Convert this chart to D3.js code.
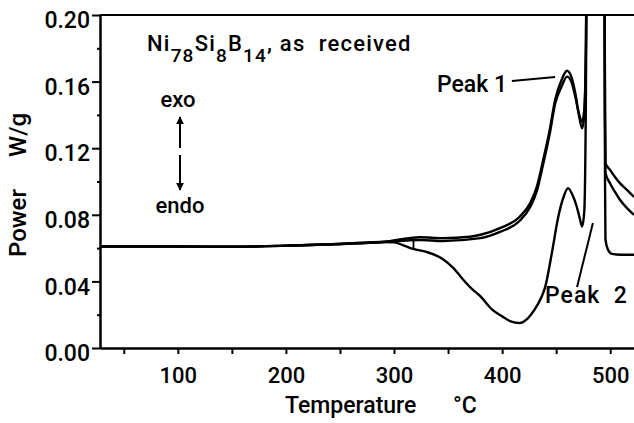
<!DOCTYPE html>
<html>
<head>
<meta charset="utf-8">
<script src="https://cdn.jsdelivr.net/npm/d3@7"></script>
<style>
  body { margin: 0; background: #fff; }
  svg { display: block; font-family: Roboto, "DejaVu Sans", sans-serif; font-weight: 500; }
  .axis path, .axis line { stroke: #000; stroke-width: 2; }
  .axis text { font-family: Roboto, sans-serif; fill: #000; }
  .run { fill: none; stroke: #000; stroke-width: 2.4; }
</style>
</head>
<body>
<div id="chart"></div>
<script>
'use strict';

// DSC traces, Ni78Si8B14 as received: [temperature C, power W/g]
var runA = [
  [28, 0.0610], [100, 0.0610], [150, 0.0608], [200, 0.0614], [250, 0.0625],
  [290, 0.0637], [324, 0.0665], [345, 0.0660], [370, 0.0668], [380, 0.0680],
  [398, 0.0720], [416, 0.0787], [426, 0.0870], [432, 0.0967], [438, 0.1130],
  [444, 0.1310], [449, 0.1490], [455, 0.1610], [460, 0.1665], [464, 0.1630],
  [468, 0.1520], [471, 0.1400], [474, 0.1320], [476, 0.1400], [477.5, 0.1790],
  [478.5, 0.2600], [494.5, 0.2600], [495.2, 0.1400], [495.6, 0.1110],
  [499.8, 0.1070], [504.4, 0.1027], [509, 0.0990], [515.5, 0.0950], [522, 0.0907]
];
var runB = [
  [28, 0.0610], [100, 0.0610], [150, 0.0608], [200, 0.0614], [250, 0.0625],
  [290, 0.0637], [324, 0.0649], [345, 0.0643], [380, 0.0660], [398, 0.0697],
  [416, 0.0763], [426, 0.0847], [432, 0.0940], [438, 0.1105], [444, 0.1285],
  [449, 0.1465], [455, 0.1570], [460, 0.1630], [464, 0.1600], [468, 0.1500],
  [471, 0.1410], [474, 0.1360], [476, 0.1430], [477.5, 0.1800], [478.5, 0.2600],
  [494.5, 0.2600], [495.2, 0.1350], [495.7, 0.1050], [499.8, 0.0990],
  [504.4, 0.0937], [509, 0.0890], [515.5, 0.0840], [522, 0.0800]
];
var runC = [
  [28, 0.0610], [100, 0.0610], [150, 0.0608], [200, 0.0614], [250, 0.0625],
  [290, 0.0637], [300, 0.0635], [310, 0.0613], [318, 0.0595], [330, 0.0577],
  [345, 0.0535], [355, 0.0480], [364, 0.0410], [372, 0.0355], [380, 0.0310],
  [390, 0.0235], [400, 0.0190], [408, 0.0160], [416, 0.0150], [424, 0.0180],
  [430, 0.0230], [436, 0.0300], [440, 0.0370], [446, 0.0570], [452, 0.0790],
  [457, 0.0910], [461, 0.0960], [465, 0.0920], [469, 0.0850], [472, 0.0775],
  [474, 0.0730], [476, 0.0820], [477.5, 0.1500], [478.5, 0.2600], [494.5, 0.2600],
  [495.2, 0.1000], [495.6, 0.0650], [498, 0.0590], [501.6, 0.0565], [510, 0.0560],
  [522, 0.0560]
];

var yMajor = [0, 0.04, 0.08, 0.12, 0.16, 0.20];
var yMinor = [0.02, 0.06, 0.10, 0.14, 0.18];
var xMajor = [100, 200, 300, 400, 500];
var xMinor = [50, 150, 250, 350, 450];

var width = 634, height = 423;
var margin = {top: 15, right: 0, bottom: 75, left: 100};

var x = d3.scaleLinear().domain([28, 522]).range([margin.left, width - margin.right]);
var y = d3.scaleLinear().domain([0, 0.20]).range([height - margin.bottom, margin.top]);

var svg = d3.select('#chart').append('svg')
  .attr('width', width)
  .attr('height', height);

svg.append('clipPath').attr('id', 'plot')
  .append('rect')
  .attr('x', margin.left).attr('y', margin.top)
  .attr('width', width - margin.left - margin.right)
  .attr('height', height - margin.top - margin.bottom);

// axes
svg.append('g').attr('class', 'axis')
  .attr('transform', 'translate(' + margin.left + ',0)')
  .call(d3.axisLeft(y).tickValues(yMinor).tickSize(3).tickSizeOuter(0).tickFormat(''));
var yAxis = svg.append('g').attr('class', 'axis')
  .attr('transform', 'translate(' + margin.left + ',0)')
  .call(d3.axisLeft(y).tickValues(yMajor).tickSize(8).tickSizeOuter(0)
    .tickPadding(2).tickFormat(d3.format('.2f')));
yAxis.selectAll('text').attr('font-size', 23).attr('dy', '0.55em');

svg.append('g').attr('class', 'axis')
  .attr('transform', 'translate(0,' + y(0) + ')')
  .call(d3.axisBottom(x).tickValues(xMinor).tickSize(6).tickSizeOuter(0).tickFormat(''));
var xAxis = svg.append('g').attr('class', 'axis')
  .attr('transform', 'translate(0,' + y(0) + ')')
  .call(d3.axisBottom(x).tickValues(xMajor).tickSize(6).tickSizeOuter(0).tickPadding(13));
xAxis.selectAll('text').attr('font-size', 22);

// top frame
svg.append('line')
  .attr('x1', margin.left).attr('x2', width)
  .attr('y1', y(0.20)).attr('y2', y(0.20))
  .attr('stroke', '#000').attr('stroke-width', 2);

// traces
var line = d3.line()
  .x(function(d) { return x(d[0]); })
  .y(function(d) { return y(d[1]); })
  .curve(d3.curveMonotoneX);

var plot = svg.append('g').attr('clip-path', 'url(#plot)');
[runA, runB, runC].forEach(function(run) {
  plot.append('path').datum(run).attr('class', 'run').attr('d', line);
});

// small marker where the runs separate
plot.append('line')
  .attr('x1', x(318)).attr('x2', x(318))
  .attr('y1', y(0.0655)).attr('y2', y(0.0595))
  .attr('stroke', '#000').attr('stroke-width', 1.8);

// title with subscripts
var title = svg.append('text')
  .attr('x', 147).attr('y', 51)
  .attr('font-size', 22)
  .attr('letter-spacing', 1.2)
  .attr('xml:space', 'preserve');
[['Ni', 0], ['78', 1], ['Si', 0], ['8', 1], ['B', 0], ['14', 1], [', as  received', 0]]
  .forEach(function(p, i, arr) {
    var prev = i > 0 ? arr[i - 1][1] : 0;
    title.append('tspan')
      .attr('dy', (p[1] - prev) * 11)
      .attr('font-size', p[1] ? 19 : 22)
      .text(p[0]);
  });

// exo / endo arrows
svg.append('text').attr('x', 178).attr('y', 107)
  .attr('text-anchor', 'middle').attr('font-size', 22).text('exo');
svg.append('text').attr('x', 180).attr('y', 213)
  .attr('text-anchor', 'middle').attr('font-size', 22).text('endo');

svg.append('defs').append('marker')
  .attr('id', 'head').attr('viewBox', '0 0 10 10')
  .attr('refX', 9).attr('refY', 5)
  .attr('markerWidth', 4).attr('markerHeight', 4)
  .attr('orient', 'auto')
  .append('path').attr('d', 'M0,0L10,5L0,10Z').attr('fill', '#000');

svg.append('line').attr('x1', 180).attr('x2', 180).attr('y1', 148).attr('y2', 117)
  .attr('stroke', '#000').attr('stroke-width', 2).attr('marker-end', 'url(#head)');
svg.append('line').attr('x1', 180).attr('x2', 180).attr('y1', 155).attr('y2', 190)
  .attr('stroke', '#000').attr('stroke-width', 2).attr('marker-end', 'url(#head)');

// peak labels
svg.append('text').attr('x', x(404.5)).attr('y', y(0.1538))
  .attr('text-anchor', 'end').attr('font-size', 23).text('Peak 1');
svg.append('line')
  .attr('x1', x(409)).attr('y1', y(0.1604))
  .attr('x2', x(449)).attr('y2', y(0.1628))
  .attr('stroke', '#000').attr('stroke-width', 2);

svg.append('text').attr('x', x(439.7)).attr('y', y(0.027))
  .attr('font-size', 23).attr('letter-spacing', 1).attr('xml:space', 'preserve').text('Peak  2');
svg.append('line')
  .attr('x1', x(484)).attr('y1', y(0.0751))
  .attr('x2', x(469.3)).attr('y2', y(0.0366))
  .attr('stroke', '#000').attr('stroke-width', 2);

// axis titles
svg.append('text').attr('x', 285).attr('y', 413)
  .attr('font-size', 23).text('Temperature');
svg.append('text').attr('x', 453).attr('y', 413)
  .attr('font-size', 23).text('\u00b0C');

svg.append('text').attr('transform', 'translate(26,257) rotate(-90)')
  .attr('font-size', 24).text('Power');
svg.append('text').attr('transform', 'translate(26,157) rotate(-90)')
  .attr('font-size', 24).text('W/g');
</script>
</body>
</html>
